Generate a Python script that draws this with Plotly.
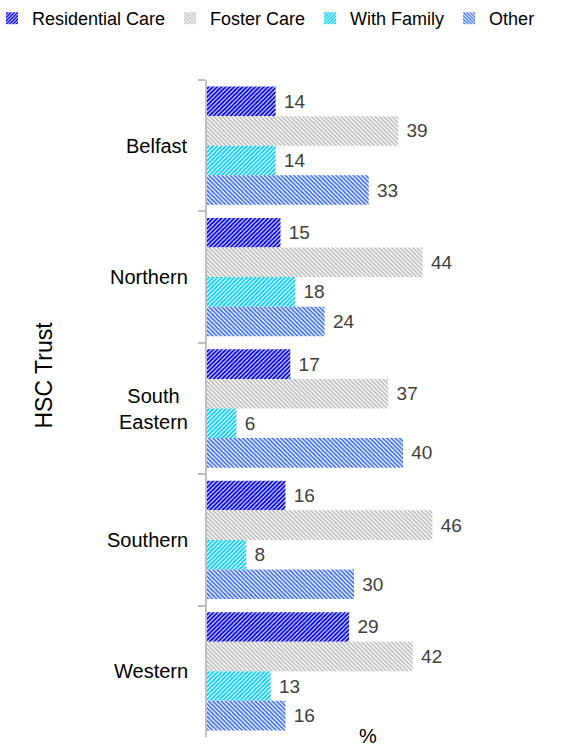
import plotly.graph_objects as go

categories = ["Belfast", "Northern", "South Eastern", "Southern", "Western"]
category_labels = ["Belfast", "Northern", "South<br>Eastern", "Southern", "Western"]
series_names = ["Residential Care", "Foster Care", "With Family", "Other"]
residential = [14, 15, 17, 16, 29]
foster = [39, 44, 37, 46, 42]
family = [14, 18, 6, 8, 13]
other = [33, 24, 40, 30, 16]

values = [residential, foster, family, other]
colors = ["#0000ff", "#b8b8b8", "#00ccff", "#3366ff"]
shapes = ["/", "\\", "/", "\\"]
solid = [0.65, 0.5, 0.6, 0.55]

FONT = "Liberation Sans, Arial, sans-serif"
L, R, T, B = 207, 0, 80, 10
PW = 565 - L - R
PH = 747 - T - B
XMAX = PW / 4.9

fig = go.Figure()
for name, vals, col, shp, so in zip(series_names, values, colors, shapes, solid):
    fig.add_trace(go.Bar(
        name=name, y=categories, x=vals, orientation="h",
        marker=dict(color="white", line=dict(width=0),
                    pattern=dict(shape=shp, fgcolor=col, bgcolor="white",
                                 size=3, solidity=so, fillmode="replace")),
        text=vals, texttemplate="\u00a0%{x}", textposition="outside",
        textfont=dict(size=19, color="#404040", family=FONT),
        cliponaxis=False,
    ))

annotations = []
for cat, lab in zip(categories, category_labels):
    annotations.append(dict(xref="paper", yref="y", x=0, y=cat, text=lab,
                            showarrow=False, xanchor="right", align="center",
                            xshift=-17, font=dict(size=20, color="#000000")))
annotations.append(dict(xref="paper", yref="paper", x=0, xshift=-164, y=0.5,
                        yshift=33, xanchor="center", yanchor="middle",
                        text="HSC Trust", textangle=-90, showarrow=False,
                        font=dict(size=23, color="#000000")))
annotations.append(dict(xref="paper", yref="paper", x=(368 - L) / PW, y=0,
                        yshift=-12, xanchor="center", yanchor="bottom",
                        text="%", showarrow=False,
                        font=dict(size=20, color="#000000")))

fig.update_layout(
    width=565, height=747,
    margin=dict(l=L, r=R, t=T, b=B, autoexpand=False),
    barmode="group", bargap=0.1, bargroupgap=0,
    plot_bgcolor="white", paper_bgcolor="white",
    font=dict(family=FONT, size=19, color="#000000"),
    showlegend=True,
    legend=dict(orientation="h", xref="paper", yref="paper",
                x=-(L + 8) / PW, y=1 + T / PH,
                xanchor="left", yanchor="top",
                font=dict(size=18, color="#000000"), itemwidth=30,
                bgcolor="rgba(0,0,0,0)", borderwidth=0),
    annotations=annotations,
    xaxis=dict(range=[0, XMAX], showgrid=False, showticklabels=False,
               zeroline=False, showline=False, ticks=""),
    yaxis=dict(autorange="reversed", showticklabels=False, showgrid=False,
               showline=True, linecolor="#bfbfbf", linewidth=2,
               ticks="outside", tickson="boundaries", ticklen=7,
               tickcolor="#bfbfbf", tickwidth=2, zeroline=False),
)

fig.write_html("out.html")
